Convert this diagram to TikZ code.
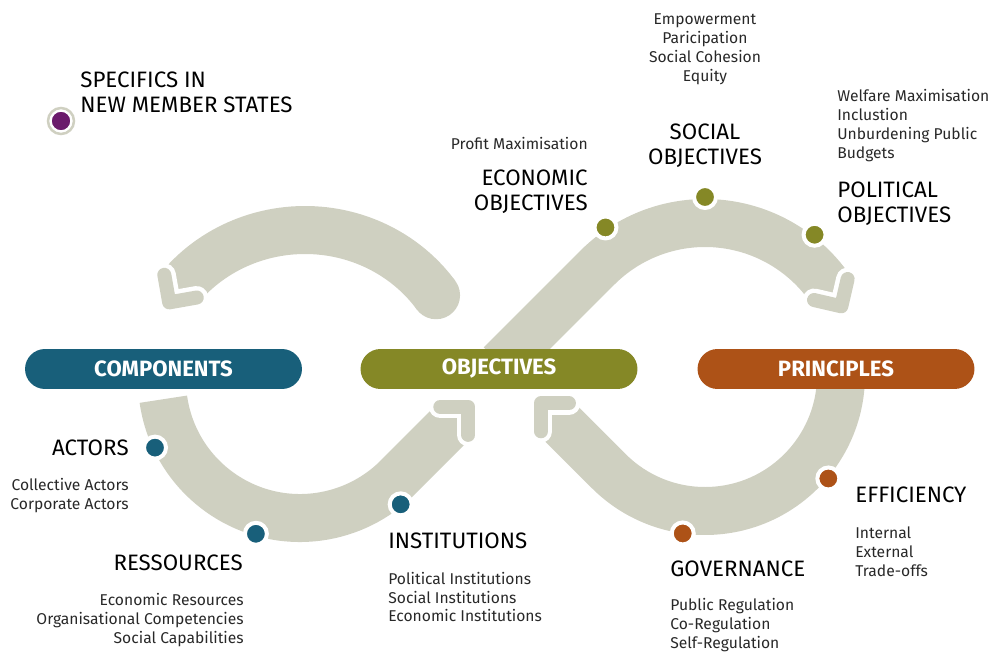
\documentclass[tikz,border=0pt]{standalone}
\usepackage{fontspec}
\setmainfont{Fira Sans}
\usetikzlibrary{calc}
\definecolor{bandgrey}{RGB}{207,208,193}
\definecolor{compblue}{RGB}{24,95,122}
\definecolor{objolive}{RGB}{133,136,38}
\definecolor{prinrust}{RGB}{173,82,23}
\definecolor{specpurple}{RGB}{107,27,108}
\definecolor{labelgrey}{RGB}{40,40,40}
\tikzset{
    band/.style={draw=bandgrey, line width=0.96cm},
    chevout/.style={draw=white, line width=0.46cm, line cap=round, line join=round},
    chevin/.style={draw=bandgrey, line width=0.28cm, line cap=round, line join=round},
    pill/.style={rounded corners=0.4cm, minimum width=5.54cm, minimum height=0.8cm,
        text=white, font=\fontsize{12.6}{13}\selectfont\bfseries},
    dot/.style={circle, draw=white, line width=0.08cm, minimum size=0.44cm, inner sep=0pt},
    head/.style={font=\fontsize{12.7}{14.2}\selectfont, text=black, inner sep=0pt},
    items/.style={font=\fontsize{8.9}{10.8}\selectfont, text=labelgrey, inner sep=0pt},
}
% open arrow head: tip at #1, pointing along angle #2
\newcommand{\chevron}[2]{%
  \draw[chevout] ($(#1)+({#2+135}:28)$) -- (#1) -- ($(#1)+({#2-135}:28)$);
  \draw[chevin] ($(#1)+({#2+135}:28)$) -- (#1) -- ($(#1)+({#2-135}:28)$);
}
\begin{document}
\begin{tikzpicture}[x=0.02cm, y=-0.02cm]
\useasboundingbox (0,0) rectangle (990,655);
% centres of the arcs
\coordinate (lc) at (305,383);
\coordinate (lb) at (300,380);
\coordinate (rc) at (705,375);

% the loop
\draw[band] ($(lc)+(217:160 and 153)$) arc[start angle=217, end angle=325, x radius=160, y radius=153] coordinate (ulEnd);
\fill[bandgrey] (ulEnd) circle (24);
\coordinate (ulTip) at ($(lc)+(217:160 and 153)+(125:14)$);

\draw[band] ($(lb)+(172:138)$) arc[start angle=172, end angle=45, radius=138] -- ++(-45:86) coordinate (blEnd);
\coordinate (blTip) at ($(blEnd)+(-45:14)$);

\draw[band] ($(rc)+(225:152)+(135:137)$) -- ($(rc)+(225:152)$) arc[start angle=225, end angle=328, radius=152] coordinate (urEnd);
\coordinate (urTip) at ($(urEnd)+(58:14)$);

\draw[band] ($(rc)+(-5:136)$) arc[start angle=-5, end angle=135, radius=136] -- ++(225:82) coordinate (brEnd);
\coordinate (brTip) at ($(brEnd)+(225:14)$);

\chevron{ulTip}{125}
\chevron{blTip}{-45}
\chevron{urTip}{58}
\chevron{brTip}{225}

% dots on the loop
\node[dot, fill=compblue] (actDot) at ($(lb)+(155:160)$) {};
\node[dot, fill=compblue] (resDot) at ($(lb)+(106:160)$) {};
\node[dot, fill=compblue] (instDot) at ($(lb)+(51:160)$) {};
\node[dot, fill=objolive] (ecoDot) at ($(rc)+(236:178)$) {};
\node[dot, fill=objolive] (socDot) at ($(rc)+(270:178)$) {};
\node[dot, fill=objolive] (polDot) at ($(rc)+(308:178)$) {};
\node[dot, fill=prinrust] (govDot) at ($(rc)+(98:160)$) {};
\node[dot, fill=prinrust] (effDot) at ($(rc)+(40:161)$) {};
\node[dot, fill=specpurple, line width=0.05cm, minimum size=0.42cm] (specDot) at (61,121) {};
\draw[bandgrey, line width=0.05cm] (specDot.center) circle (13);

% the three blocks
\node[pill, fill=compblue] (comp) at (163.5,369) {COMPONENTS};
\node[pill, fill=objolive] (obj) at (499,369) {OBJECTIVES};
\node[pill, fill=prinrust] (prin) at (836,369) {PRINCIPLES};

% labels
\node[head, align=left, anchor=west] (specHead) at (80,92.5) {SPECIFICS IN\\NEW MEMBER STATES};
\node[items, anchor=east] (ecoItems) at (588,143) {Profit Maximisation};
\node[head, align=right, anchor=east] (ecoHead) at (588,191.5) {ECONOMIC\\OBJECTIVES};
\node[head, align=center] (socHead) at (705,145.5) {SOCIAL\\OBJECTIVES};
\node[items, align=center] (socItems) at (705,49.5) {Empowerment\\Paricipation\\Social Cohesion\\Equity};
\node[items, align=left, anchor=west] (polItems) at (837,126) {Welfare Maximisation\\Inclustion\\Unburdening Public\\Budgets};
\node[head, align=left, anchor=west] (polHead) at (837,204) {POLITICAL\\OBJECTIVES};
\node[head, anchor=east] (actHead) at (129,448) {ACTORS};
\node[items, align=right, anchor=east] (actItems) at (129,495.5) {Collective Actors\\Corporate Actors};
\node[head, anchor=east] (resHead) at (243,563) {RESSOURCES};
\node[items, align=right, anchor=east] (resItems) at (244,620) {Economic Resources\\Organisational Competencies\\Social Capabilities};
\node[head, anchor=west] (instHead) at (388,541) {INSTITUTIONS};
\node[items, align=left, anchor=west] (instItems) at (388,597) {Political Institutions\\Social Institutions\\Economic Institutions};
\node[head, anchor=west] (govHead) at (670,569) {GOVERNANCE};
\node[items, align=left, anchor=west] (govItems) at (670,625.5) {Public Regulation\\Co-Regulation\\Self-Regulation};
\node[head, anchor=west] (effHead) at (855,495) {EFFICIENCY};
\node[items, align=left, anchor=west] (effItems) at (855,551.5) {Internal\\External\\Trade-offs};
\end{tikzpicture}
\end{document}
